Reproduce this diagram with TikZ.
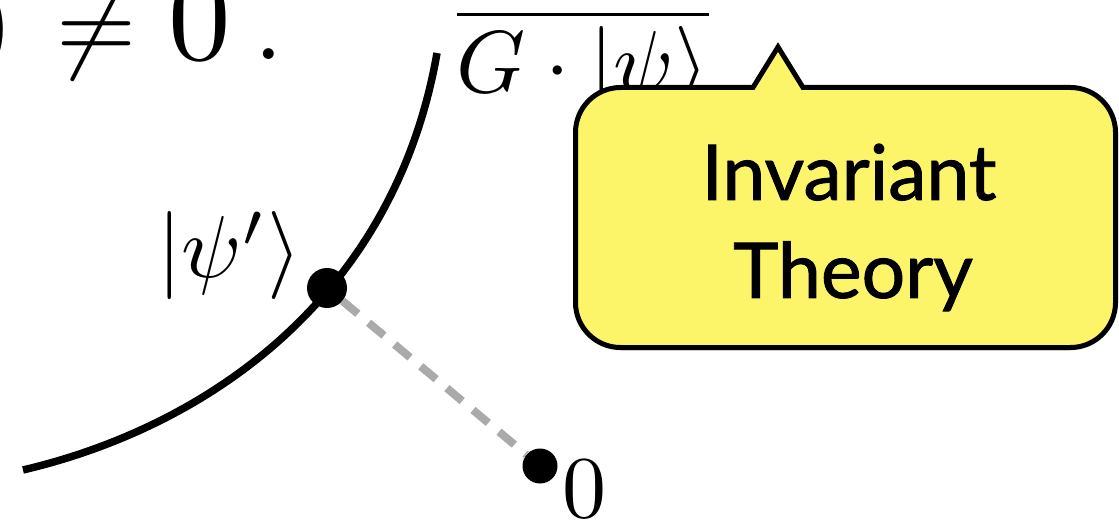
\documentclass[tikz,border=0pt]{standalone}
\usepackage{fontspec}
\newfontfamily\callfont[UprightFeatures={FakeBold=1.2}]{Lato}
\usetikzlibrary{shadows}
\definecolor{calloutyellow}{RGB}{253,245,105}
\definecolor{dashgray}{RGB}{170,170,170}
\begin{document}
\begin{tikzpicture}[x=1pt,y=-1pt,
  orbitcurve/.style={line width=7.5pt, line cap=butt},
  dotnode/.style={circle, fill=black, inner sep=0pt},
  conn/.style={line width=8pt, draw=dashgray, dash pattern=on 20pt off 14pt},
  mathlbl/.style={inner sep=0pt, scale=8.8},
  calloutshape/.style={line width=5pt, fill=calloutyellow, draw=black, line join=miter,
     drop shadow={shadow xshift=0pt, shadow yshift=-3pt, opacity=0.25}},
  callouttext/.style={inner sep=0pt, font=\callfont\fontsize{77}{98}\selectfont}]
\useasboundingbox (0,0) rectangle (1119,521);
% top-left equation fragment
\node[inner sep=0pt, anchor=base east, scale=10.3] (paren) at (16,56) {$)$};
\node[inner sep=0pt, anchor=base, scale=10.3] (neq) at (97,60) {$\neq$};
\node[inner sep=0pt, anchor=base, scale=12.5] (zerotop) at (200,60) {$0$};
\node[inner sep=0pt, anchor=base, scale=10.3] (period) at (269,60) {$.$};
% orbit curve
\draw[orbitcurve] (23,470) .. controls (218,424) and (396,289) .. (437,53);
% points
\node[dotnode, minimum size=40pt] (psi) at (327,288) {};
\node[dotnode, minimum size=35pt] (zero) at (540,466) {};
\draw[conn] (psi) -- (zero);
% labels
\node[mathlbl, anchor=base east] (psilbl) at (303,278) {$|\psi'\rangle$};
\node[mathlbl, anchor=base west] (zerolbl) at (561,517) {$0$};
\node[mathlbl, anchor=base west] (orbit) at (455,93) {$\overline{G\cdot|\psi\rangle}$};
% callout
\draw[calloutshape] (575.5,132.5) arc(180:270:45) -- (753,87.5) -- (778,47) -- (803,87.5) -- (1070.5,87.5) arc(270:360:45) -- (1115.5,302.5) arc(0:90:45) -- (620.5,347.5) arc(90:180:45) -- cycle;
\node[callouttext, anchor=base] (inv) at (849,200) {Invariant};
\node[callouttext, anchor=base] (theory) at (853,298) {Theory};
\end{tikzpicture}
\end{document}
